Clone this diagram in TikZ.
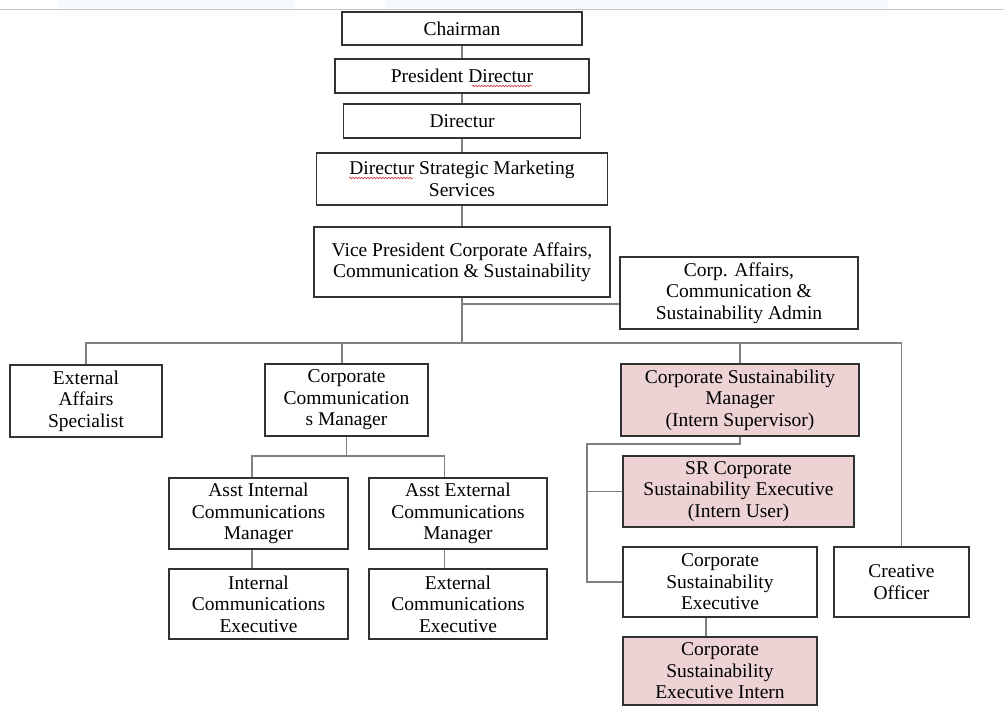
\documentclass[tikz,border=0pt]{standalone}
\usepackage{fontspec}
\usetikzlibrary{decorations.pathmorphing}
\setmainfont{Liberation Serif}
\definecolor{boxline}{RGB}{50,50,50}
\definecolor{linkgray}{RGB}{128,128,128}
\definecolor{internpink}{RGB}{237,211,211}
\definecolor{topband}{RGB}{246,250,254}
\definecolor{spellred}{RGB}{205,70,70}
\newcommand{\orgfont}{\fontsize{19.5}{21.5}\selectfont}

\begin{document}
\begin{tikzpicture}[x=1pt,y=-1pt,
    link/.style={draw=linkgray,line width=1.2pt},
    hl/.style={fill=internpink},
    spell/.style={draw=spellred,line width=0.7pt,decorate,decoration={snake,amplitude=0.8pt,segment length=3pt}}]
    \useasboundingbox (0,0) rectangle (1004,708);
    % screenshot edge
    \fill[topband] (58,0) rectangle (295,9);
    \fill[topband] (385,0) rectangle (888,9);
    \draw[gray!45,line width=1.5pt] (0,9.5) -- (1004,9.5);
    \begin{scope}[every node/.style={draw=boxline,line width=1.5pt,align=center,inner sep=0pt,font=\orgfont}]
      \node[minimum width=240pt,minimum height=33pt] (ch) at (462,28.5) {Chairman};
      \node[minimum width=254pt,minimum height=34pt] (pd) at (462,76) {President Directur};
      \node[minimum width=237pt,minimum height=34pt] (dir) at (462,121) {Directur};
      \node[minimum width=291pt,minimum height=52pt] (dsms) at (462,179) {Directur Strategic Marketing\\Services};
      \node[minimum width=296pt,minimum height=70pt] (vp) at (462,262) {Vice President Corporate Affairs,\\Communication \& Sustainability};
      \node[minimum width=238pt,minimum height=72pt] (adm) at (739,293) {Corp. Affairs,\\Communication \&\\Sustainability Admin};
      \node[minimum width=152pt,minimum height=72pt] (eas) at (86,401) {External\\Affairs\\Specialist};
      \node[minimum width=163pt,minimum height=72pt] (ccm) at (346.5,400) {Corporate\\Communication\\s Manager};
      \node[minimum width=179pt,minimum height=71pt] (aicm) at (258.5,513.5) {Asst Internal\\Communications\\Manager};
      \node[minimum width=178pt,minimum height=71pt] (aecm) at (458,513.5) {Asst External\\Communications\\Manager};
      \node[minimum width=179pt,minimum height=70pt] (ice) at (258.5,604) {Internal\\Communications\\Executive};
      \node[minimum width=178pt,minimum height=70pt] (ece) at (458,604) {External\\Communications\\Executive};
      \node[hl,minimum width=238pt,minimum height=72pt] (csm) at (740,400) {Corporate Sustainability\\Manager\\(Intern Supervisor)};
      \node[hl,minimum width=231pt,minimum height=71pt] (sr) at (738.5,491.5) {SR Corporate\\Sustainability Executive\\(Intern User)};
      \node[minimum width=194pt,minimum height=70pt] (cse) at (720,582) {Corporate\\Sustainability\\Executive};
      \node[hl,minimum width=194pt,minimum height=68pt] (csei) at (720,671) {Corporate\\Sustainability\\Executive Intern};
      \node[minimum width=135pt,minimum height=70pt] (co) at (901.5,582) {Creative\\Officer};
    \end{scope}
    % spell-check marks
    \draw[spell] ([xshift=10pt,yshift=-10pt]pd.center) -- ([xshift=70pt,yshift=-10pt]pd.center);
    \draw[spell] ([xshift=-113pt,yshift=1pt]dsms.center) -- ([xshift=-49pt,yshift=1pt]dsms.center);
    \begin{scope}[every edge/.style={link}]
      \coordinate (bus) at (462,343);
      \coordinate (admj) at (462,304);
      \coordinate (ccmj) at (346.5,456);
      \coordinate (csmj) at (587,444);
      \path (ch) edge (pd);
      \path (pd) edge (dir);
      \path (dir) edge (dsms);
      \path (dsms) edge (vp);
      \path (vp) edge (bus);
      \path (admj) edge (admj -| adm.west);
      \draw[link] (eas.north) |- (bus) -| (co.north);
      \draw[link] (bus) -| ([xshift=-4.5pt]ccm.north);
      \draw[link] (bus) -| (csm.north);
      \path (ccm.south) edge (ccmj);
      \draw[link] ([xshift=-6.5pt]aicm.north) |- (ccmj) -| ([xshift=-13.5pt]aecm.north);
      \path ([xshift=-6.5pt]aicm.south) edge ([xshift=-6.5pt]ice.north);
      \path ([xshift=-13.5pt]aecm.south) edge ([xshift=-13.5pt]ece.north);
      \draw[link] (csm.south) |- (csmj) |- (cse.west);
      \path (csmj |- sr.west) edge (sr.west);
      \path ([xshift=-14pt]cse.south) edge ([xshift=-14pt]csei.north);
    \end{scope}
\end{tikzpicture}
\end{document}
